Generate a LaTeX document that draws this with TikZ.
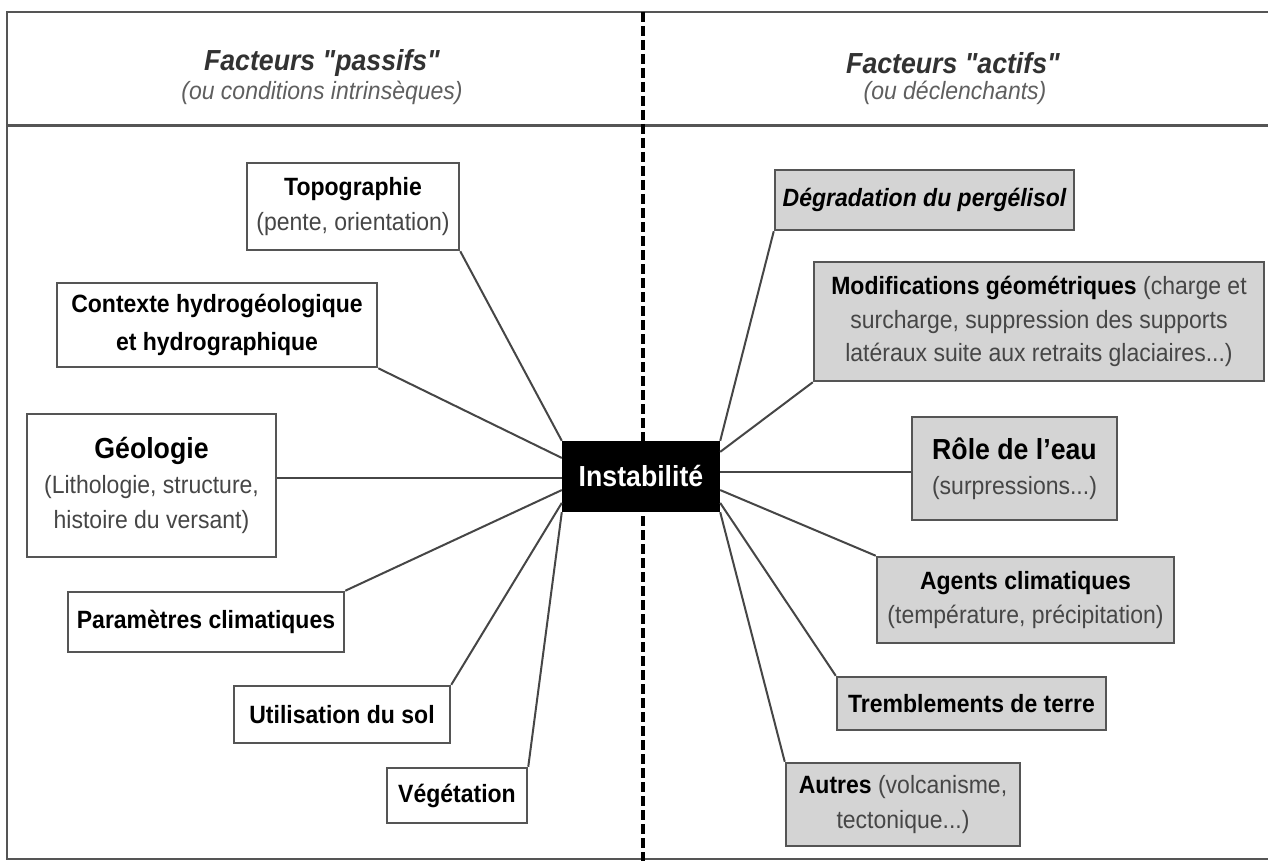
\documentclass[tikz,border=0pt]{standalone}
\usepackage{fontspec}
\setmainfont{Liberation Sans}[FakeStretch=0.92]
\newfontfamily\hdfont{Liberation Sans}[FakeStretch=0.92, Ligatures=TeXOff]
\usetikzlibrary{calc}
\definecolor{boxgray}{RGB}{212,212,212}
\definecolor{edgegray}{RGB}{85,85,85}
\definecolor{txtgray}{RGB}{70,70,70}
\definecolor{linegray}{RGB}{70,70,70}
\definecolor{headgray}{RGB}{50,50,50}
\definecolor{subgray}{RGB}{95,95,95}
\begin{document}
\begin{tikzpicture}[x=1pt,y=-1pt,
  fbox/.style={draw=edgegray, line width=2.5pt, inner sep=0pt, align=center,
               font=\fontsize{25}{35}\selectfont, text=black},
  wbox/.style={fbox, fill=white},
  gbox/.style={fbox, fill=boxgray},
  conn/.style={draw=linegray, line width=2pt},
  headtitle/.style={font=\hdfont\fontsize{29}{35}\selectfont\bfseries\itshape, text=headgray, inner sep=0pt},
  headsub/.style={font=\fontsize{25}{35}\selectfont\itshape, text=subgray, inner sep=0pt}
  ]
\useasboundingbox (0,0) rectangle (1268,861);
\fill[white] (0,0) rectangle (1268,861);
% frame
\draw[edgegray, line width=2.5pt] (1290,12) -- (7,12) -- (7,859) -- (1290,859);
\draw[edgegray, line width=3pt] (7,126) -- (1290,126);
\draw[black, line width=3.5pt, dash pattern=on 10pt off 4pt] (643,12) -- (643,870);

% headers
\node[headtitle] (hl) at (322,63) {Facteurs "passifs"};
\node[headsub] (hls) at (322,93) {(ou conditions intrinsèques)};
\node[headtitle] (hr) at (953,63) {Facteurs "actifs"};
\node[headsub] (hrs) at (955,93) {(ou déclenchants)};

% centre
\node[fill=black, text=white, inner sep=0pt, minimum width=158pt, minimum height=71pt,
      font=\fontsize{29}{35}\selectfont\bfseries] (inst) at (641,476.5) {Instabilité};

% left boxes
\node[wbox, minimum width=212pt, minimum height=87pt] (topo) at (353,206.5)
  {{\bfseries Topographie}\\{\color{txtgray}(pente, orientation)}};
\node[wbox, minimum width=320pt, minimum height=84pt, font=\fontsize{25}{38}\selectfont\bfseries] (ctx) at (217,325)
  {Contexte hydrogéologique\\et hydrographique};
\node[wbox, minimum width=249pt, minimum height=143pt] (geo) at (151.5,485.5)
  {{\fontsize{29}{38}\selectfont\bfseries Géologie}\\{\color{txtgray}(Lithologie, structure,}\\{\color{txtgray}histoire du versant)}};
\node[wbox, minimum width=276pt, minimum height=60pt, font=\fontsize{25}{35}\selectfont\bfseries] (param) at (206,622)
  {Paramètres climatiques};
\node[wbox, minimum width=216pt, minimum height=57pt, font=\fontsize{25}{35}\selectfont\bfseries] (util) at (342,714.5)
  {Utilisation du sol};
\node[wbox, minimum width=140pt, minimum height=55pt, font=\fontsize{25}{35}\selectfont\bfseries] (veg) at (457,795.5)
  {Végétation};

% right boxes
\node[gbox, minimum width=299pt, minimum height=60pt, font=\fontsize{25}{35}\selectfont\bfseries\itshape] (degr) at (924.5,200)
  {Dégradation du pergélisol};
\node[gbox, minimum width=450pt, minimum height=119pt, font=\fontsize{25}{33.5}\selectfont] (modif) at (1039,321.5)
  {{\bfseries Modifications géométriques} {\color{txtgray}(charge et}\\{\color{txtgray}surcharge, suppression des supports}\\{\color{txtgray}latéraux suite aux retraits glaciaires...)}};
\node[gbox, minimum width=205pt, minimum height=103pt] (role) at (1014.5,468.5)
  {{\fontsize{29}{38}\selectfont\bfseries Rôle de l'eau}\\{\color{txtgray}(surpressions...)}};
\node[gbox, minimum width=297pt, minimum height=86pt, font=\fontsize{25}{34}\selectfont] (agents) at (1025.5,600)
  {{\bfseries Agents climatiques}\\{\color{txtgray}(température, précipitation)}};
\node[gbox, minimum width=269pt, minimum height=53pt, font=\fontsize{25}{35}\selectfont\bfseries] (trem) at (971.5,703.5)
  {Tremblements de terre};
\node[gbox, minimum width=234pt, minimum height=83pt] (autres) at (903,804.5)
  {{\bfseries Autres} {\color{txtgray}(volcanisme,}\\{\color{txtgray}tectonique...)}};

% attachment points on the centre box
\coordinate (iL1) at (inst.north west);
\coordinate (iL2) at ($(inst.north west)!0.24!(inst.south west)$);
\coordinate (iL3) at ($(inst.north west)!0.52!(inst.south west)$);
\coordinate (iL4) at ($(inst.north west)!0.69!(inst.south west)$);
\coordinate (iL5) at ($(inst.north west)!0.87!(inst.south west)$);
\coordinate (iL6) at (inst.south west);
\coordinate (iR1) at (inst.north east);
\coordinate (iR2) at ($(inst.north east)!0.155!(inst.south east)$);
\coordinate (iR3) at ($(inst.north east)!0.44!(inst.south east)$);
\coordinate (iR4) at ($(inst.north east)!0.69!(inst.south east)$);
\coordinate (iR5) at ($(inst.north east)!0.87!(inst.south east)$);
\coordinate (iR6) at (inst.south east);

% connectors
\draw[conn] (topo.south east) -- (iL1);
\draw[conn] (ctx.south east) -- (iL2);
\draw[conn] (iL3 -| geo.east) -- (iL3);
\draw[conn] (param.north east) -- (iL4);
\draw[conn] (util.north east) -- (iL5);
\draw[conn] (veg.north east) -- (iL6);
\draw[conn] (degr.south west) -- (iR1);
\draw[conn] (modif.south west) -- (iR2);
\draw[conn] (iR3 -| role.west) -- (iR3);
\draw[conn] (agents.north west) -- (iR4);
\draw[conn] (trem.north west) -- (iR5);
\draw[conn] (autres.north west) -- (iR6);
\end{tikzpicture}
\end{document}
